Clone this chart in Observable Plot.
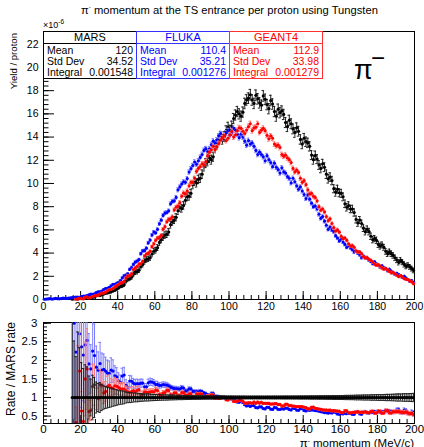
<!DOCTYPE html>
<html><head><meta charset="utf-8">
<script src="https://cdn.jsdelivr.net/npm/d3@7"></script>
<script src="https://cdn.jsdelivr.net/npm/@observablehq/plot@0.6"></script>
<style>
body{margin:0;background:#fff;}
#c{position:relative;width:424px;height:447px;font-family:"Liberation Sans",Arial,Helvetica,sans-serif;overflow:hidden;background:#fff;}
#c svg{position:absolute;left:0;overflow:visible;background:transparent;}
.box{position:absolute;box-sizing:border-box;border:1px solid;background:#fff;font-size:10.5px;}
.box .h{text-align:center;height:11px;line-height:11px;border-bottom:1px solid;font-size:11px;}
.box .r{display:flex;justify-content:space-between;padding:0 3px;height:11px;line-height:11px;}
</style></head><body><div id="c"></div>
<script>
// Histogram binning: 200 bins of 1 MeV/c from 0 to 200; values in units of 1e-6 per proton
const xMin = 0, binWidth = 1;
const mars = [0,0,0,0,0,0,0,0,0,0,0,0,0,0,0,
.04,.06,.09,.05,.07,.11,.14,.12,.13,.21,.26,.20,.23,.33,.38,.35,.42,.49,.55,.58,.63,.68,.76,.82,.90,
1.02,1.15,1.18,1.27,1.58,1.76,1.80,1.92,2.18,2.36,
2.40,2.52,2.85,3.02,3.28,3.44,3.50,3.60,3.92,4.16,
4.25,4.47,4.92,5.15,5.38,5.55,5.62,5.82,6.45,6.70,
6.85,7.08,7.65,7.92,7.85,8.10,8.55,8.85,8.90,9.15,
9.90,10.20,10.05,10.35,10.45,10.80,11.45,11.75,11.90,12.20,
12.05,12.30,13.05,13.35,13.75,14.05,13.80,14.05,14.55,14.85,
14.60,14.95,15.60,15.90,16.20,16.00,15.80,16.15,16.90,17.20,
17.35,17.65,17.20,16.90,17.60,17.30,16.95,16.75,17.55,17.25,
16.80,16.45,17.15,16.85,16.20,15.80,16.40,16.10,16.25,15.95,
15.25,14.90,15.45,15.15,14.70,14.40,14.80,14.50,13.80,13.40,
13.90,13.60,13.50,13.20,12.45,12.05,12.40,12.10,11.60,11.30,
11.70,11.40,10.80,10.40,10.55,10.25,9.55,9.25,9.50,9.20,
9.15,8.85,8.25,7.95,8.10,7.80,7.80,7.50,6.90,6.60,
6.85,6.55,6.15,5.85,6.05,5.85,5.45,5.15,5.25,5.10,
4.75,4.60,4.70,4.50,4.15,3.95,4.10,3.95,3.80,3.60,
3.40,3.20,3.38,3.22,3.02,2.86,2.95,2.81,2.66,2.50];
const fluka = [.02,.04,.05,.07,.04,.06,.09,.07,.06,.08,
.12,.10,.09,.11,.14,.16,.18,.20,.21,.19,
.26,.30,.29,.33,.40,.46,.45,.49,.60,.66,
.67,.73,.86,.94,.96,1.04,1.18,1.30,1.30,1.40,
1.48,1.62,1.86,2.04,2.10,2.22,2.60,2.76,3.02,3.22,
3.30,3.44,3.95,4.19,4.22,4.42,4.88,5.12,5.55,5.81,
5.75,6.05,6.52,6.84,7.25,7.45,7.50,7.64,8.25,8.45,
8.50,8.80,9.45,9.70,9.95,10.15,10.10,10.42,10.98,11.28,
11.55,11.85,11.65,11.95,12.25,12.50,12.85,13.00,12.75,13.00,
13.35,13.65,13.50,13.76,14.10,14.30,13.90,14.16,14.35,14.55,
14.15,14.35,14.75,14.60,14.25,13.95,14.25,14.00,13.65,13.30,
13.70,13.40,13.50,13.20,12.85,12.50,12.70,12.50,12.30,11.95,
12.40,12.05,11.80,11.45,11.75,11.40,11.20,10.90,11.35,11.00,
10.90,10.60,10.45,10.05,10.45,10.15,9.80,9.50,9.70,9.35,
9.05,8.70,9.00,8.65,8.30,8.00,8.05,7.80,7.35,7.00,
7.15,6.75,6.40,6.05,6.25,6.00,5.85,5.50,5.30,5.05,
5.20,4.95,4.75,4.50,4.65,4.45,4.30,4.10,4.20,4.00,
3.85,3.60,3.75,3.62,3.55,3.40,3.28,3.10,3.25,3.07,
2.95,2.80,2.90,2.75,2.65,2.48,2.60,2.44,2.30,2.18,
2.25,2.15,2.05,1.90,2.00,1.85,1.72,1.58,1.62,1.48];
const geant4 = [0,0,0,0,0,0,0,0,0,0,0,0,0,0,0,0,0,
.03,.05,.12,
.07,.05,.18,.23,.13,.17,.26,.31,.33,.37,
.47,.56,.55,.64,.75,.84,.86,.95,1.08,1.17,
1.30,1.42,1.45,1.56,1.86,2.03,2.05,2.22,2.58,2.72,
2.86,3.05,3.08,3.28,3.75,3.92,3.98,4.15,4.55,4.80,
5.10,5.30,5.35,5.52,6.05,6.28,6.70,6.90,6.95,7.12,
7.72,7.95,8.05,8.35,8.90,9.18,9.10,9.35,9.80,10.10,
10.10,10.45,11.05,11.30,11.45,11.70,11.60,11.88,12.40,12.70,
12.90,13.20,12.90,13.15,13.45,13.75,13.95,14.10,13.70,13.90,
14.20,14.50,14.00,14.20,14.55,14.80,14.75,14.50,14.30,14.60,
14.90,15.15,14.55,14.80,14.85,15.15,14.40,14.60,14.75,14.55,
14.15,13.85,14.10,13.90,13.40,13.25,13.30,13.10,12.50,12.35,
12.45,12.20,12.05,11.80,11.30,11.00,11.15,10.95,10.45,10.10,
10.25,9.90,9.45,9.10,9.15,8.90,8.80,8.50,8.00,7.70,
7.80,7.55,7.15,6.80,6.95,6.55,6.20,5.90,6.00,5.80,
5.45,5.25,5.30,5.10,4.80,4.60,4.65,4.50,4.20,4.10,
4.10,3.95,3.70,3.58,3.62,3.45,3.38,3.24,3.05,2.96,
3.00,2.88,2.72,2.62,2.68,2.56,2.42,2.30,2.35,2.22,
2.10,1.98,2.05,1.95,1.80,1.74,1.72,1.60,1.52,1.36];

const seriesNames = ["MARS", "FLUKA", "GEANT4"];
const statMean = ["120", "110.4", "112.9"];
const statStd = ["34.52", "35.21", "33.98"];
const statIntegral = ["0.001548", "0.001276", "0.001279"];
const xTicks = [0,20,40,60,80,100,120,140,160,180,200];
const yTicks = [0,2,4,6,8,10,12,14,16,18,20,22];
const ratioTicks = [0.5,1,1.5,2,2.5,3];

// styling
const markColors = ["#000000", "#0000ff", "#ff0000"];
const errColors = ["#222222", "#8080ff", "#ff7a7a"];
const boxColors = ["#000000", "#3030ff", "#ff3030"];
// statistical error model: sigma = errA*sqrt(v) + errB
const errA = [0.10, 0.05, 0.05];
const errB = [0.04, 0.02, 0.02];
const FONT = '"Liberation Sans", Arial, Helvetica, sans-serif';

const series = [mars, fluka, geant4];
const sig = (s, v) => errA[s] * Math.sqrt(v) + errB[s];
const rows = series.map((arr, s) => arr.map((v, i) => ({
  x: xMin + (i + 0.5) * binWidth, y: v, e: sig(s, v)
})).filter(d => d.y > 0));

const ratioRows = series.map((arr, s) => arr.map((v, i) => {
  const m = mars[i];
  if (!(m > 0) || !(v > 0)) return null;
  const em = sig(0, m) / m;
  const ev = sig(s, v) / v;
  const r = v / m;
  const rel = s === 0 ? Math.SQRT2 * em : Math.sqrt(ev * ev + em * em);
  return {x: xMin + (i + 0.5) * binWidth, y: r, e: r * rel};
}).filter(d => d));

function histMarks(data, s, clip) {
  const capW = 0.7;
  return [
    Plot.ruleX(data, {x: "x", y1: d => d.y - d.e, y2: d => d.y + d.e, stroke: errColors[s], strokeWidth: 1, clip}),
    Plot.ruleY(data, {y: d => d.y + d.e, x1: d => d.x - capW, x2: d => d.x + capW, stroke: errColors[s], strokeWidth: 1, clip}),
    Plot.ruleY(data, {y: d => d.y - d.e, x1: d => d.x - capW, x2: d => d.x + capW, stroke: errColors[s], strokeWidth: 1, clip}),
    Plot.dot(data, {x: "x", y: "y", r: 1.6, fill: markColors[s], stroke: "none", clip})
  ];
}

function range(a, b, step) { return d3.range(a, b + step / 2, step); }

const W = 424;
// ---- top panel ----
const topH = 316, topMT = 31, topMB = 17, ML = 43, MR = 10;
const frameW = W - ML - MR, topFrameH = topH - topMT - topMB;
const topPlot = Plot.plot({
  width: W, height: topH,
  marginTop: topMT, marginBottom: topMB, marginLeft: ML, marginRight: MR,
  style: {fontFamily: FONT, fontSize: "10.5px", background: "transparent", color: "#000"},
  x: {domain: [0, 200], ticks: xTicks, tickSize: 0, tickPadding: 3, tickFormat: d => String(d), label: null},
  y: {domain: [0, 23.1], ticks: yTicks, tickSize: 0, tickPadding: 5, tickFormat: d => String(d), label: null},
  marks: [
    Plot.frame({stroke: "#000"}),
    Plot.tickX(xTicks, {x: d => d, insetTop: topFrameH - 8, stroke: "#000"}),
    Plot.tickX(range(0, 200, 4), {x: d => d, insetTop: topFrameH - 4, stroke: "#000"}),
    Plot.tickY(range(0, 22, 2), {y: d => d, insetRight: frameW - 11, stroke: "#000"}),
    Plot.tickY(range(0, 23, 0.4), {y: d => d, insetRight: frameW - 5.5, stroke: "#000"}),
    ...histMarks(rows[0], 0, false),
    ...histMarks(rows[1], 1, false),
    ...histMarks(rows[2], 2, false)
  ]
});
topPlot.style.top = "0px";

// ---- ratio panel ----
const botTop = 310, botH = 137, botMT = 12, botMB = 24;
const botFrameH = botH - botMT - botMB;
const botPlot = Plot.plot({
  width: W, height: botH,
  marginTop: botMT, marginBottom: botMB, marginLeft: ML, marginRight: MR,
  style: {fontFamily: FONT, fontSize: "11.5px", background: "transparent", color: "#000"},
  x: {domain: [0, 200], ticks: xTicks, tickSize: 0, tickPadding: 1, tickFormat: d => String(d), label: null},
  y: {domain: [0.3, 3.02], ticks: ratioTicks, tickSize: 0, tickPadding: 6, tickFormat: d => String(d), label: null},
  marks: [
    Plot.frame({stroke: "#000"}),
    Plot.tickX(xTicks, {x: d => d, insetTop: botFrameH - 8, stroke: "#000"}),
    Plot.tickX(range(0, 200, 4), {x: d => d, insetTop: botFrameH - 4, stroke: "#000"}),
    Plot.tickY(ratioTicks, {y: d => d, insetRight: frameW - 8, stroke: "#000"}),
    Plot.tickY(range(0.4, 3, 0.1), {y: d => d, insetRight: frameW - 4, stroke: "#000"}),
    ...histMarks(ratioRows[1], 1, true),
    ...histMarks(ratioRows[2], 2, true),
    ...histMarks(ratioRows[0], 0, true)
  ]
});
botPlot.style.top = botTop + "px";

const c = document.getElementById("c");
c.appendChild(topPlot);
c.appendChild(botPlot);

// ---- stats boxes ----
const boxLeft = [43, 136, 229];
seriesNames.forEach((name, s) => {
  const b = document.createElement("div");
  b.className = "box";
  Object.assign(b.style, {left: boxLeft[s] + "px", top: "30.5px", width: "94px", height: "48px",
    borderColor: boxColors[s], color: markColors[s]});
  b.innerHTML = `<div class="h" style="border-color:${boxColors[s]}">${name}</div>` +
    `<div class="r" style="margin-top:1px"><span>Mean</span><span>${statMean[s]}</span></div>` +
    `<div class="r"><span>Std Dev</span><span>${statStd[s]}</span></div>` +
    `<div class="r"><span>Integral</span><span>${statIntegral[s]}</span></div>`;
  c.appendChild(b);
});

// ---- texts ----
const ns = "http://www.w3.org/2000/svg";
const ov = document.createElementNS(ns, "svg");
ov.setAttribute("width", W); ov.setAttribute("height", 447);
ov.style.top = "0px"; ov.style.pointerEvents = "none";
ov.setAttribute("font-family", FONT);
ov.innerHTML = `
<text x="229.5" y="14" text-anchor="middle" font-size="11.2">π<tspan font-size="6" dy="-5">-</tspan><tspan dy="5"> momentum at the TS entrance per proton using Tungsten</tspan></text>
<text x="43" y="28" font-size="9">×10<tspan font-size="6.5" dy="-4">-6</tspan></text>
<text transform="translate(16.5,33) rotate(-90)" text-anchor="end" font-size="9.6">Yield / proton</text>
<text transform="translate(14.5,322) rotate(-90)" text-anchor="end" font-size="12">Rate / MARS rate</text>
<text x="414" y="446.5" text-anchor="end" font-size="11.5">π<tspan font-size="6.5" dy="-4">-</tspan><tspan dy="4"> momentum (MeV/c)</tspan></text>
<text x="354" y="79" font-size="27">π</text>
<text x="371" y="66" font-size="24">−</text>
`;
c.appendChild(ov);
</script></body></html>
